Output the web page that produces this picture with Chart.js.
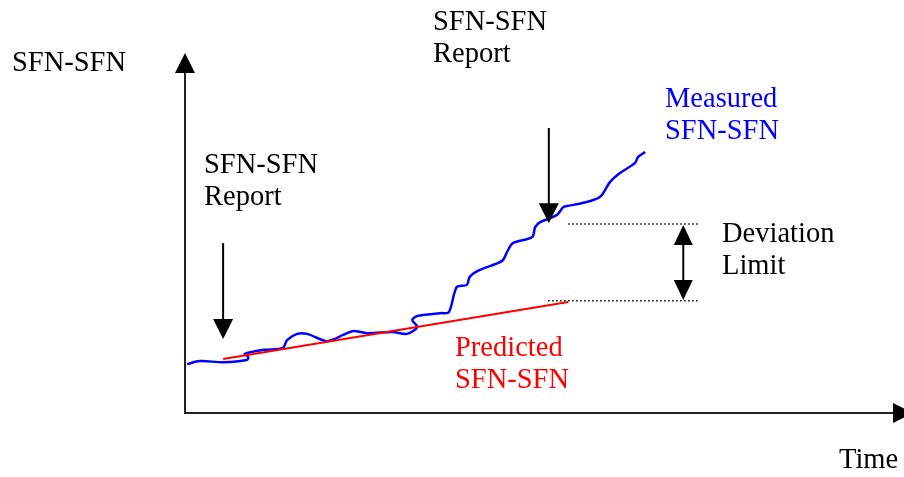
<!DOCTYPE html>
<html>
<head>
<meta charset="utf-8">
<script src="https://cdn.jsdelivr.net/npm/chart.js@4/dist/chart.umd.min.js"></script>
<style>
  html, body { margin: 0; padding: 0; background: #fff; }
  #wrap { width: 904px; height: 477px; }
</style>
</head>
<body>
<div id="wrap"><canvas id="sfnChart"></canvas></div>
<script>
// time (arbitrary units) vs SFN-SFN value (arbitrary units)
const measuredT = [0.3, 2.1, 5.3, 8.6, 8.8, 8.3, 10.9, 13.6, 14.2, 15.6, 17.0, 19.7, 22.0, 23.4, 25.3, 28.9, 30.9, 32.3, 31.6, 32.3, 35.5, 36.7, 37.8, 39.2, 39.6, 41.0, 44.1, 44.8, 45.6, 48.3, 48.7, 49.4, 51.7, 52.6, 53.1, 55.4, 57.7, 59.1, 60.5, 62.6, 63.0, 64.0];
const measuredV = [13.5, 14.3, 14.0, 14.6, 15.4, 16.3, 17.4, 17.9, 20.1, 21.8, 21.8, 19.8, 21.5, 22.6, 22.0, 22.3, 21.8, 23.7, 25.6, 26.7, 27.5, 27.8, 34.7, 35.3, 37.5, 39.4, 41.9, 44.4, 46.8, 48.5, 51.2, 52.6, 54.5, 56.7, 57.0, 57.9, 59.5, 63.6, 66.1, 68.9, 70.5, 71.9];
const predictedT = [5.3, 53.3];
const predictedV = [14.9, 30.6];
const upperLimitT = [53.3, 71.6];
const upperLimitV = [52.1, 52.1];
const lowerLimitT = [50.5, 71.6];
const lowerLimitV = [30.9, 30.9];
// arrows: [x, from, to]  (to = tip)
const reportArrows = [[5.3, 46.8, 20.4], [50.6, 78.5, 52.3]];
const deviationArrow = [69.3, 31.1, 51.8];

const pts = (xs, ys) => xs.map((x, i) => ({ x: x, y: ys[i] }));

const labels = [
  { lines: ['SFN-SFN'], x: 12, y: 71, color: '#000' },
  { lines: ['SFN-SFN', 'Report'], x: 433, y: 30, color: '#000' },
  { lines: ['SFN-SFN', 'Report'], x: 204, y: 173, color: '#000' },
  { lines: ['Measured', 'SFN-SFN'], x: 665, y: 107, color: '#0000ff' },
  { lines: ['Deviation', 'Limit'], x: 722, y: 242, color: '#000' },
  { lines: ['Predicted', 'SFN-SFN'], x: 455, y: 356, color: '#ff0000' },
  { lines: ['Time'], x: 839, y: 468, color: '#000' }
];

function head(ctx, x, y, dir, w, h) {
  // dir: 'up' | 'down' | 'right'
  ctx.beginPath();
  if (dir === 'up') { ctx.moveTo(x, y); ctx.lineTo(x - w / 2, y + h); ctx.lineTo(x + w / 2, y + h); }
  else if (dir === 'down') { ctx.moveTo(x, y); ctx.lineTo(x - w / 2, y - h); ctx.lineTo(x + w / 2, y - h); }
  else { ctx.moveTo(x, y); ctx.lineTo(x - h, y - w / 2); ctx.lineTo(x - h, y + w / 2); }
  ctx.closePath();
  ctx.fill();
}

const diagram = {
  id: 'diagram',
  beforeDatasetsDraw(chart) {
    const { ctx, chartArea: a } = chart;
    ctx.save();
    ctx.strokeStyle = '#222';
    ctx.fillStyle = '#000';
    ctx.lineWidth = 2;
    ctx.beginPath();
    ctx.moveTo(a.left, a.top + 10);
    ctx.lineTo(a.left, a.bottom);
    ctx.lineTo(a.right - 5, a.bottom);
    ctx.stroke();
    head(ctx, a.left, a.top + 3, 'up', 20, 20);
    head(ctx, a.right + 9, a.bottom, 'right', 20, 20);
    ctx.restore();
  },
  afterDatasetsDraw(chart) {
    const { ctx } = chart;
    const xs = chart.scales.x, ys = chart.scales.y;
    ctx.save();
    ctx.strokeStyle = '#000';
    ctx.fillStyle = '#000';
    ctx.lineWidth = 2;
    reportArrows.forEach(([t, from, to]) => {
      const px = xs.getPixelForValue(t);
      const p0 = ys.getPixelForValue(from), p1 = ys.getPixelForValue(to);
      ctx.beginPath(); ctx.moveTo(px, p0); ctx.lineTo(px, p1 - 18); ctx.stroke();
      head(ctx, px, p1, 'down', 20, 20);
    });
    const dx = xs.getPixelForValue(deviationArrow[0]);
    const lo = ys.getPixelForValue(deviationArrow[1]), hi = ys.getPixelForValue(deviationArrow[2]);
    ctx.beginPath(); ctx.moveTo(dx, hi + 18); ctx.lineTo(dx, lo - 18); ctx.stroke();
    head(ctx, dx, hi, 'up', 19, 20);
    head(ctx, dx, lo, 'down', 19, 20);

    ctx.font = '28.5px "Liberation Serif", "Times New Roman", serif';
    ctx.textBaseline = 'alphabetic';
    labels.forEach(l => {
      ctx.fillStyle = l.color;
      l.lines.forEach((s, i) => ctx.fillText(s, l.x, l.y + i * 31.5));
    });
    ctx.restore();
  }
};

new Chart(document.getElementById('sfnChart'), {
  type: 'scatter',
  data: {
    datasets: [
      {
        data: pts(predictedT, predictedV),
        showLine: true, borderColor: '#ff0000', borderWidth: 2, pointRadius: 0
      },
      {
        data: pts(measuredT, measuredV),
        showLine: true, borderColor: '#0000ff', borderWidth: 2.5, pointRadius: 0,
        tension: 0.3
      },
      {
        data: pts(upperLimitT, upperLimitV),
        showLine: true, borderColor: '#000', borderWidth: 1.5, borderDash: [1.5, 2.5], pointRadius: 0
      },
      {
        data: pts(lowerLimitT, lowerLimitV),
        showLine: true, borderColor: '#000', borderWidth: 1.5, borderDash: [1.5, 2.5], pointRadius: 0
      }
    ]
  },
  options: {
    responsive: true,
    maintainAspectRatio: false,
    animation: false,
    layout: { padding: { left: 185, right: 0, top: 50, bottom: 64 } },
    plugins: { legend: { display: false }, tooltip: { enabled: false } },
    scales: {
      x: { type: 'linear', min: 0, max: 100, display: false },
      y: { type: 'linear', min: 0, max: 100, display: false }
    }
  },
  plugins: [diagram]
});
</script>
</body>
</html>
